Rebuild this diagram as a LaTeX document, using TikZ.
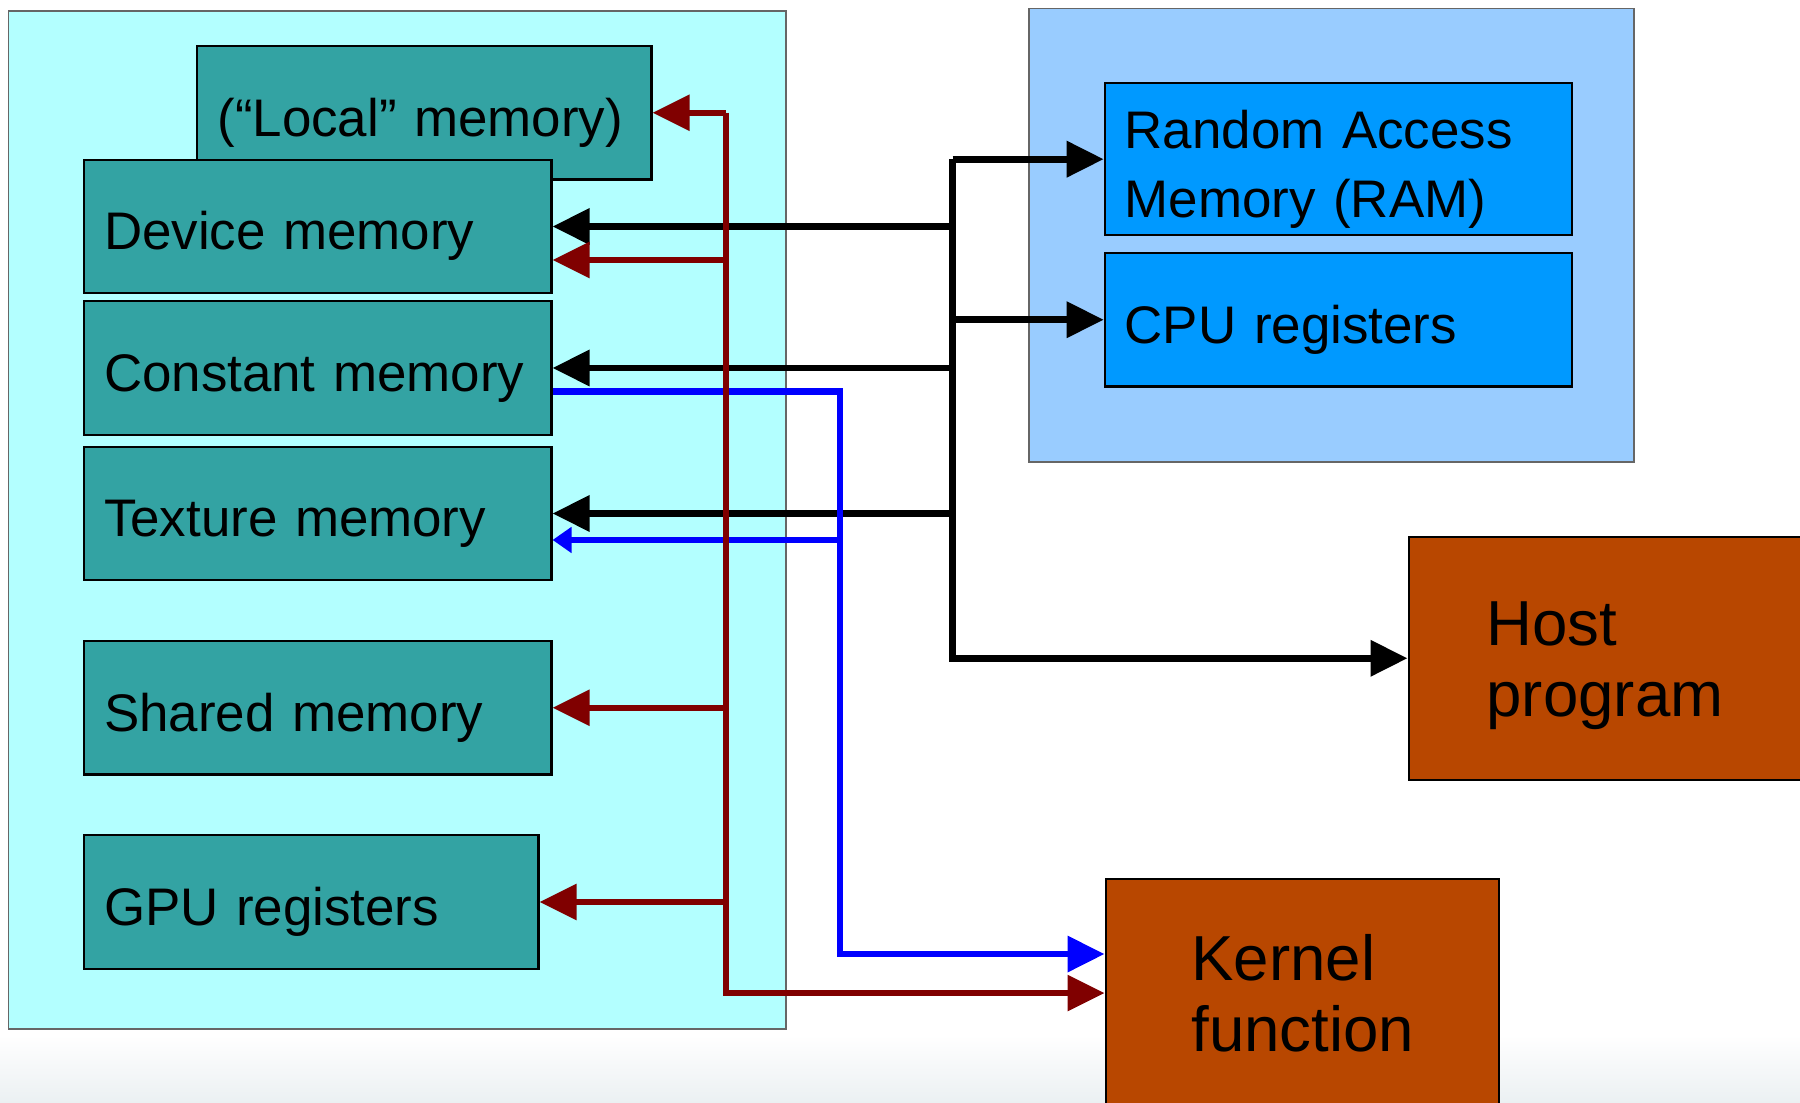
\documentclass[tikz,border=0pt]{standalone}
\usepackage{fontspec}
\setmainfont{Liberation Sans}
\usetikzlibrary{arrows.meta}

\definecolor{gpuarea}{HTML}{B3FFFF}
\definecolor{memfill}{HTML}{33A3A3}
\definecolor{hostarea}{HTML}{99CCFF}
\definecolor{hostmem}{HTML}{0099FF}
\definecolor{progfill}{HTML}{B84700}
\definecolor{darkred}{HTML}{800000}
\definecolor{slidegrey}{HTML}{EBF0F2}

\begin{document}
\begin{tikzpicture}[
        >={Triangle[length=0.37cm,width=0.35cm]},
        area/.style={
            rectangle,
            draw=black!60,
            line width=0.4pt,
            inner sep=0pt
        },
        mem/.style={
            rectangle,
            draw=black,
            line width=0.6pt,
            fill=memfill,
            minimum width=4.675cm,
            minimum height=1.335cm,
            text width=4.275cm,
            inner xsep=0.2cm,
            align=left,
            text height=0.5cm,
            text depth=0.03cm,
            font=\fontsize{15.05}{19.6}\selectfont
        },
        prog/.style={
            rectangle,
            draw=black,
            line width=0.6pt,
            fill=progfill,
            align=left,
            text height=0.5cm,
            text depth=0.76cm,
            font=\fontsize{18.1}{20.2}\selectfont
        },
        wire/.style={line width=0.068cm},
        arrow/.style={->, wire}
    ]

    \useasboundingbox (0,0) rectangle (18,11.03);
    \clip (0,0) rectangle (18,11.03);
    \shade[top color=white, bottom color=slidegrey] (0,0) rectangle (18,0.68);

    % areas
    \node[area, fill=gpuarea, minimum width=7.773cm, minimum height=10.178cm] (gpu) at (3.9735,5.829) {};
    \node[area, fill=hostarea, minimum width=6.05cm, minimum height=4.536cm] (cpuarea) at (13.315,8.678) {};

    % GPU side memories
    \node[mem, minimum width=4.541cm, text width=4.141cm] (loc) at (4.2445,9.9025) {(“Local” memory)};
    \node[mem] (dev) at (3.1775,8.765) {Device memory};
    \node[mem] (con) at (3.1775,7.35)  {Constant memory};
    \node[mem] (tex) at (3.1775,5.895) {Texture memory};
    \node[mem] (shm) at (3.1775,3.952) {Shared memory};
    \node[mem, minimum width=4.545cm, text width=4.145cm] (reg) at (3.1125,2.01) {GPU registers};

    % host side memories
    \node[mem, fill=hostmem, minimum height=1.516cm, text depth=0.714cm] (ram) at (13.385,9.438) {Random Access\\Memory (RAM)};
    \node[mem, fill=hostmem] (cpu) at (13.385,7.8325) {CPU registers};

    % programs
    \node[prog, anchor=west, minimum height=2.426cm, inner xsep=0.78cm, text width=2.4cm] (host) at (14.075,4.447) {Host\\program};
    \node[prog, anchor=north west, minimum height=2.286cm, inner xsep=0.86cm, text width=2.215cm] (kernel) at (11.045,2.253) {Kernel\\function};

    % bus positions
    \coordinate (kb) at (9.527,0);
    \coordinate (bb) at (8.40,0);
    \coordinate (rb) at (7.255,0);
    \coordinate (devred) at ([yshift=-0.335cm]dev.east);
    \coordinate (conblue) at ([yshift=-0.235cm]con.east);
    \coordinate (texblue) at ([yshift=-0.265cm]tex.east);
    \coordinate (kernblue) at ([yshift=0.39cm]kernel.west);

    % host program
    \draw[arrow] (kb |- ram.west) |- (host.west);
    \draw[arrow] (kb |- ram.west) -- (ram.west);
    \draw[arrow] (kb |- cpu.west) -- (cpu.west);
    \draw[arrow] (kb |- dev.east) -- (dev.east);
    \draw[arrow] (kb |- con.east) -- (con.east);
    \draw[arrow] (kb |- tex.east) -- (tex.east);

    % constant memory to kernel
    \draw[arrow, blue] (conblue) -| (bb |- kernblue) -- (kernblue);
    \draw[wire, blue, -{Triangle[length=0.19cm,width=0.25cm]}] (bb |- texblue) -- (texblue);

    % kernel function
    \draw[arrow, darkred, line width=0.06cm] (rb |- loc.east) |- (kernel.west);
    \draw[arrow, darkred, line width=0.06cm] (rb |- loc.east) -- (loc.east);
    \draw[arrow, darkred, line width=0.06cm] (rb |- devred) -- (devred);
    \draw[arrow, darkred, line width=0.06cm] (rb |- shm.east) -- (shm.east);
    \draw[arrow, darkred, line width=0.06cm] (rb |- reg.east) -- (reg.east);

\end{tikzpicture}
\end{document}
